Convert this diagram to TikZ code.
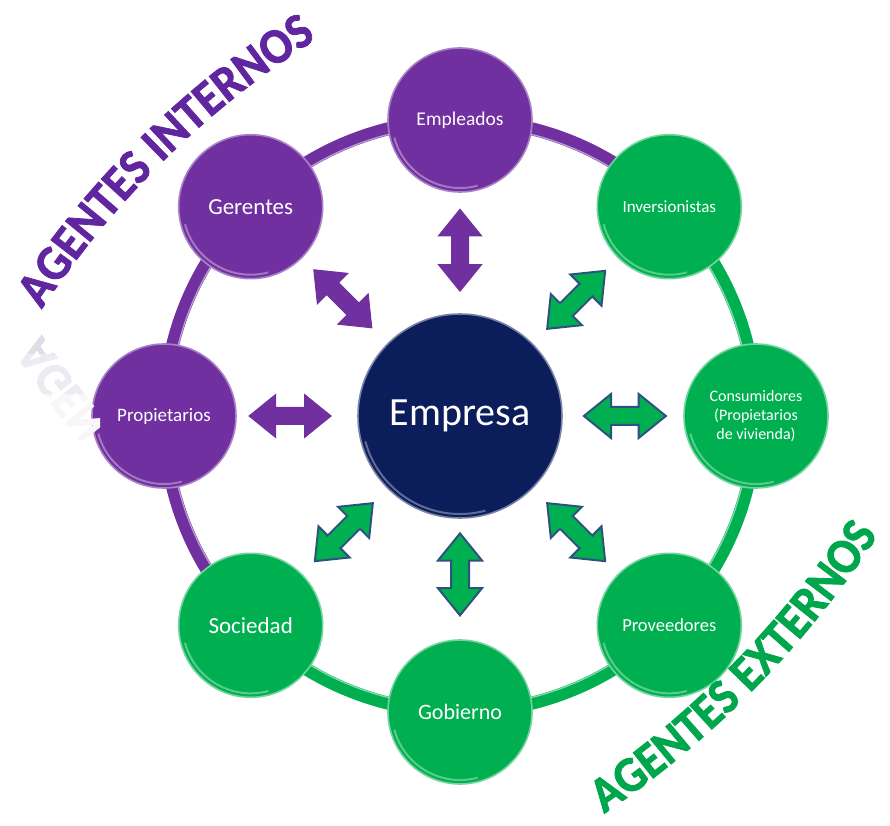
\documentclass[tikz,border=0pt]{standalone}
\usepackage{fontspec}
\setmainfont{Carlito}
\newfontfamily\bannerface{Carlito}[FakeStretch=0.93, BoldFeatures={FakeBold=1.6}]
\usetikzlibrary{shapes.arrows,decorations.text,calc}
\definecolor{intpurple}{RGB}{112,48,160}
\definecolor{extgreen}{RGB}{0,176,80}
\definecolor{corenavy}{RGB}{12,29,92}
\definecolor{arrowedge}{RGB}{45,82,125}
\definecolor{titlepurple}{RGB}{96,38,160}
\definecolor{titlegreen}{RGB}{0,166,76}
\definecolor{mirrorgray}{RGB}{190,188,208}
\newcommand\bannerfont{\bannerface\fontsize{50}{50}\selectfont\bfseries}
\begin{document}
\begin{tikzpicture}[x=1pt,y=1pt,
  agent/.style={circle, minimum size=144pt, inner sep=0pt, text=white, align=center, line width=1.6pt},
  internal/.style={agent, fill=intpurple, draw=intpurple!60!white},
  external/.style={agent, fill=extgreen, draw=extgreen!55!white},
  link/.style={double arrow, minimum height=82pt, inner sep=0pt, inner ysep=8pt,
    double arrow head extend=13pt, double arrow tip angle=78},
  ilink/.style={link, fill=intpurple, draw=intpurple, line width=1pt},
  elink/.style={link, fill=extgreen, draw=arrowedge, line width=2pt},
  band/.style={line width=13pt},
  gloss/.style={white, opacity=.35, line width=2pt},
]
\useasboundingbox (0,0) rectangle (890,825);
\coordinate (c) at (460,409);

% the ring joining the agents
\draw[band, intpurple] (c) ++(45:296) arc[start angle=45, end angle=225, radius=296];
\draw[band, extgreen] (c) ++(225:296) arc[start angle=225, end angle=405, radius=296];
\draw[intpurple!45!white, line width=1.2pt] (c) ++(45:290.5) arc[start angle=45, end angle=225, radius=290.5];
\draw[extgreen!45!white, line width=1.2pt] (c) ++(225:290.5) arc[start angle=225, end angle=405, radius=290.5];

% central company and the eight agents
\node[circle, minimum size=204pt, inner sep=0pt, fill=corenavy, draw=corenavy!55!white,
      line width=1.6pt, text=white, font=\fontsize{40}{42}\selectfont] (core) at (c) {Empresa};
\node[internal, font=\fontsize{19.5}{22}\selectfont] (emp) at ([shift={(90:296)}]c) {Empleados};
\node[external, font=\fontsize{17}{20}\selectfont] (inv) at ([shift={(45:296)}]c) {Inversionistas};
\node[external, font=\fontsize{16}{19}\selectfont] (con) at ([shift={(0:296)}]c) {Consumidores\\(Propietarios\\de vivienda)};
\node[external, font=\fontsize{18.5}{22}\selectfont] (prov) at ([shift={(-45:296)}]c) {Proveedores};
\node[external, font=\fontsize{22}{26}\selectfont] (gob) at ([shift={(-90:296)}]c) {Gobierno};
\node[external, font=\fontsize{23}{27}\selectfont] (soc) at ([shift={(-135:296)}]c) {Sociedad};
\node[internal, font=\fontsize{19}{22}\selectfont] (prop) at ([shift={(180:296)}]c) {Propietarios};
\node[internal, font=\fontsize{23}{27}\selectfont] (ger) at ([shift={(135:296)}]c) {Gerentes};

% bevel highlight on the lower left of each disc
\foreach \n/\r in {core/102, emp/72, inv/72, con/72, prov/72, gob/72, soc/72, prop/72, ger/72}{
  \draw[gloss] (\n.center) ++(195:{\r-4}) arc[start angle=195, end angle=285, radius={\r-4}];
}

% two-way arrows between the company and each agent
\node[ilink, rotate=90]  (l-emp)  at ($(core)!.56!(emp)$) {};
\node[elink, rotate=45]  (l-inv)  at ($(core)!.555!(inv)$) {};
\node[elink]             (l-con)  at ($(core)!.557!(con)$) {};
\node[elink, rotate=-45] (l-prov) at ($(core)!.555!(prov)$) {};
\node[elink, rotate=90]  (l-gob)  at ($(core)!.535!(gob)$) {};
\node[elink, rotate=45]  (l-soc)  at ($(core)!.555!(soc)$) {};
\node[ilink]             (l-prop) at ($(core)!.574!(prop)$) {};
\node[ilink, rotate=-45] (l-ger)  at ($(core)!.56!(ger)$) {};

% curved banners
\path[decorate, decoration={text along path, text align=center,
  text={|\bannerfont\color{titlepurple}|AGENTES INTERNOS}}]
  (22.2,484.7) arc[start angle=149, end angle=120, radius=912];
\path[decorate, decoration={text along path, text align=center,
  text={|\bannerfont\color{titlegreen}|AGENTES EXTERNOS}}]
  (573,-9) arc[start angle=-58, end angle=-31, radius=993];

% fading mirror image under the purple banner
\foreach \ya/\yb/\tone in {470/503/50, 430/470/30, 385/430/13}{
  \begin{scope}
    \clip (0,\ya) rectangle (100,\yb);
    \begin{scope}[transform canvas={yshift=1006pt, yscale=-1}]
      \path[decorate, decoration={text along path, text align=center,
        text={|\bannerfont\color{mirrorgray!\tone!white}|AGENTES INTERNOS}}]
        (22.2,484.7) arc[start angle=149, end angle=120, radius=912];
    \end{scope}
  \end{scope}
}
\end{tikzpicture}
\end{document}
